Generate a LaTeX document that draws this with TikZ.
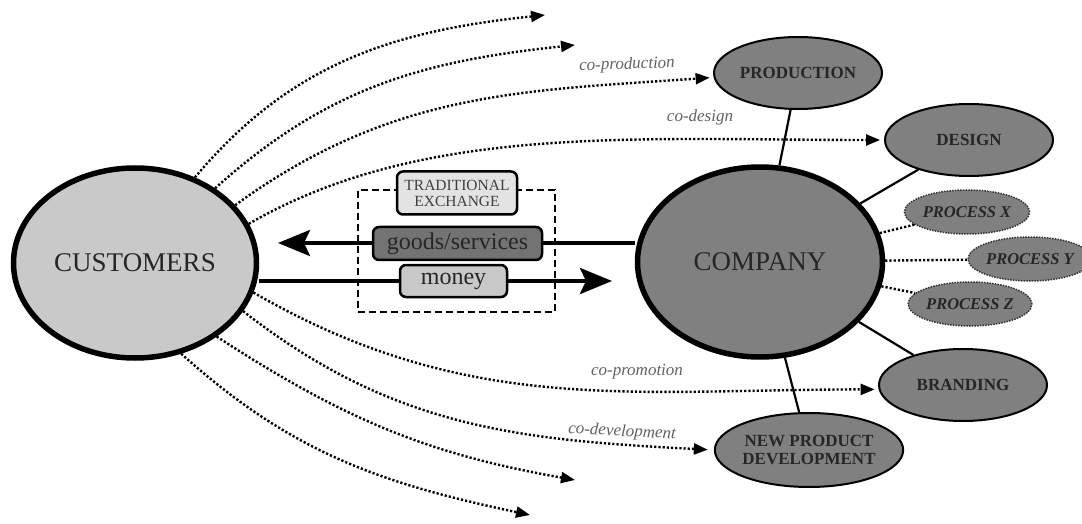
\documentclass[tikz,border=0pt]{standalone}
\usepackage{fontspec}
\setmainfont{Liberation Serif}
\usetikzlibrary{arrows.meta, shapes.geometric, positioning}
\definecolor{custgray}{gray}{0.79}
\definecolor{taskgray}{gray}{0.50}
\definecolor{goodsgray}{gray}{0.45}
\definecolor{tradgray}{gray}{0.89}

\begin{document}
\begin{tikzpicture}[x=1pt, y=1pt,
  bigoval/.style={ellipse, draw=black, line width=5.5pt, inner sep=0pt, font=\fontsize{27}{30}\selectfont, text=black!85},
  taskoval/.style={ellipse, draw=black, line width=2pt, fill=taskgray, inner sep=0pt, minimum width=168pt, minimum height=72pt, font=\bfseries\fontsize{17}{18}\selectfont, text=black!85},
  procoval/.style={ellipse, draw=black!80, line width=1.5pt, dash pattern=on 1.5pt off 1.2pt, fill=taskgray, inner sep=0pt, minimum width=118pt, minimum height=44pt, font=\bfseries\itshape\fontsize{16.5}{17}\selectfont, text=black!85},
  flowbox/.style={draw=black, line width=2.5pt, rounded corners=6pt, inner sep=0pt},
  coflow/.style={line width=2.4pt, dash pattern=on 2.2pt off 2pt, -{Triangle[length=14pt,width=11pt]}},
  colabel/.style={font=\itshape\fontsize{17}{19}\selectfont, text=black!62},
  link/.style={line width=2.2pt},
  dotlink/.style={line width=2.4pt, dash pattern=on 2.2pt off 2pt},
  exchange/.style={line width=4pt, -{Stealth[length=32pt,width=26pt,inset=6pt]}}
]
\useasboundingbox (0,0) rectangle (1082,523);
\node[bigoval, fill=custgray, minimum width=243pt, minimum height=190pt] (cust) at (135,260) {CUSTOMERS};
\node[bigoval, fill=taskgray, minimum width=245pt, minimum height=190pt] (comp) at (760,261) {COMPANY};
\node[taskoval] (prod) at (798,450) {PRODUCTION};
\node[taskoval] (design) at (969,383) {DESIGN};
\node[procoval] (procx) at (967,311) {PROCESS X};
\node[procoval] (procy) at (1030,264) {PROCESS Y};
\node[procoval] (procz) at (970,219) {PROCESS Z};
\node[taskoval] (brand) at (963,138) {BRANDING};
\node[taskoval, minimum height=74pt, align=center] (npd) at (809,73) {NEW PRODUCT\\DEVELOPMENT};

\draw[link] (comp) -- (prod);
\draw[link] (comp) -- (design);
\draw[dotlink] (comp) -- (procx);
\draw[dotlink] (comp) -- (procy);
\draw[dotlink] (comp) -- (procz);
\draw[link] (comp) -- (brand);
\draw[link] (comp) -- (npd);

\coordinate (up1) at (545,508);
\coordinate (up2) at (575,478);
\coordinate (dn1) at (575,43);
\coordinate (dn2) at (530,8);
\draw[coflow] (cust.55) to[out=50,in=186] (up1);
\draw[coflow] (cust.43) to[out=42,in=186] (up2);
\draw[coflow, shorten >=4pt] (cust.30) to[out=36,in=184] (prod.183);
\draw[coflow, shorten >=4pt] (cust.19) to[out=30,in=180,out looseness=0.8] (design.west);
\draw[coflow, shorten >=4pt] (cust.-14) to[out=-30,in=180] (brand.183);
\draw[coflow, shorten >=6pt] (cust.-24) to[out=-38,in=177] (npd.west);
\draw[coflow] (cust.-42) to[out=-33,in=170] (dn1);
\draw[coflow] (cust.-63) to[out=-42,in=168] (dn2);

\node[colabel, rotate=2] (lprod) at (627,458) {co-production};
\node[colabel] (ldesign) at (700,406) {co-design};
\node[colabel] (lpromo) at (637,151) {co-promotion};
\node[colabel, rotate=-3] (ldev) at (622,91) {co-development};

\node[draw, line width=2.4pt, dash pattern=on 7pt off 4pt, minimum width=197pt, minimum height=122pt] (frame) at (456.5,272) {};
\coordinate (goodstip) at (278,280);
\coordinate (moneytip) at (612,242);
\draw[exchange] (comp.west |- goodstip) -- (goodstip);
\draw[exchange] (cust.east |- moneytip) -- (moneytip);
\node[flowbox, fill=tradgray, minimum width=120pt, minimum height=43pt, align=center, font=\fontsize{15.5}{16}\selectfont, text=black!75] (trad) at (457,330) {TRADITIONAL\\EXCHANGE};
\node[flowbox, fill=goodsgray, minimum width=169pt, minimum height=33pt, font=\fontsize{24}{26}\selectfont, text=black!85] (goods) at (457.5,279.5) {goods/services};
\node[flowbox, fill=custgray, minimum width=107pt, minimum height=32pt, font=\fontsize{24}{26}\selectfont, text=black!85] (money) at (453.5,242) {money};
\end{tikzpicture}
\end{document}
